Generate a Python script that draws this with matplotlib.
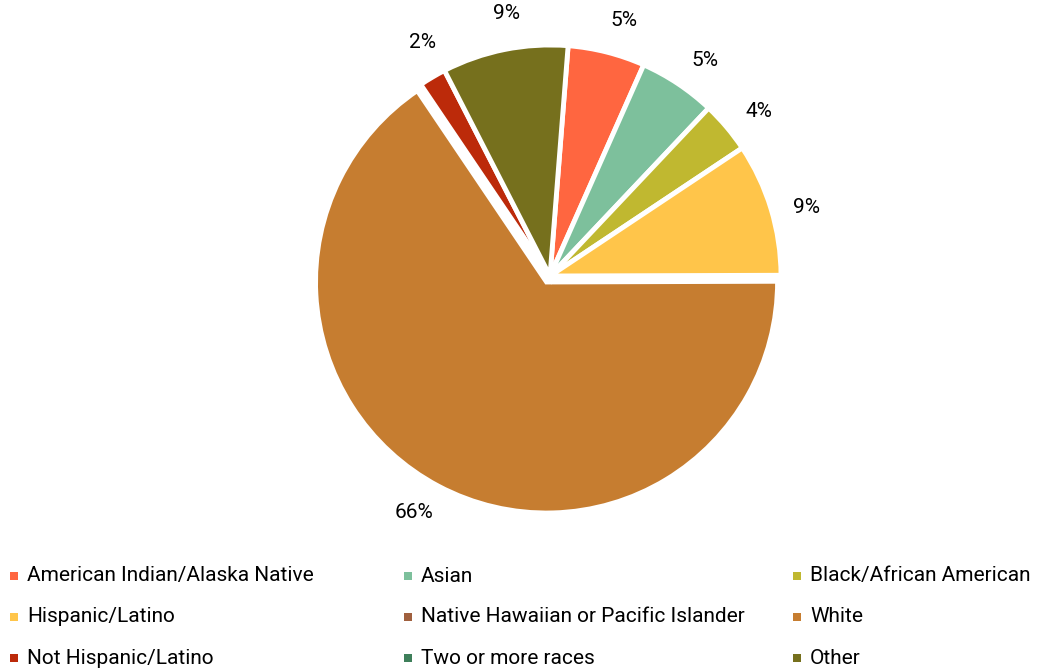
import matplotlib
matplotlib.use("Agg")
import matplotlib.pyplot as plt
from matplotlib.patches import Rectangle

plt.rcParams['font.family'] = ['Roboto', 'DejaVu Sans']

# share of students by race / ethnicity (percent)
categories = ["American Indian/Alaska Native", "Asian", "Black/African American",
              "Hispanic/Latino", "Native Hawaiian or Pacific Islander", "White",
              "Not Hispanic/Latino", "Two or more races", "Other"]
shares = [5.4, 5.4, 3.6, 9.3, 0.0, 65.6, 1.9, 0.0, 8.8]
colors = ["#FF6640", "#7DC09C", "#C0B830", "#FFC54A", "#A0603E",
          "#C67D30", "#BC2A0A", "#3E7F5A", "#76701D"]

W, H = 1039, 672
fig = plt.figure(figsize=(W / 100, H / 100), dpi=100)

# pie axes: square box in pixels, centred on the pie
cx, cy, rad = 550, 276, 231
lim = 1.3
side = 2 * lim * rad
ax = fig.add_axes([(cx - side / 2) / W, (H - cy - side / 2) / H, side / W, side / H])

# zero categories are left out of the pie but stay in the legend
keep = [i for i, v in enumerate(shares) if v > 0]
vals = [shares[i] for i in keep]
cols = [colors[i] for i in keep]
explode = [0.03 if categories[i] == "White" else 0.0 for i in keep]

wedges, texts, autotexts = ax.pie(
    vals, colors=cols, startangle=83.5, counterclock=False, explode=explode,
    autopct='%.0f%%', pctdistance=1.15,
    wedgeprops=dict(edgecolor='white', linewidth=3.5),
    textprops=dict(fontsize=15, color='black'))
# wedges are laid out 2 degrees further round, so turn them back
for w in wedges:
    w.set_theta1(w.theta1 + 2)
    w.set_theta2(w.theta2 + 2)
ax.set_xlim(-lim, lim)
ax.set_ylim(-lim, lim)
ax.axis('off')

# legend, three columns
col_x = [14, 408, 797]
row_y = [576, 617, 658]
for k, (name, c) in enumerate(zip(categories, colors)):
    x = col_x[k % 3]
    y = row_y[k // 3]
    fig.patches.append(Rectangle(((x - 4) / W, (H - y - 4) / H), 8 / W, 8 / H,
                                 transform=fig.transFigure, facecolor=c,
                                 edgecolor='none'))
    fig.text((x + 13) / W, (H - y) / H, name, fontsize=15, color='black',
             va='center', ha='left')

plt.savefig('out.png', dpi=100)
